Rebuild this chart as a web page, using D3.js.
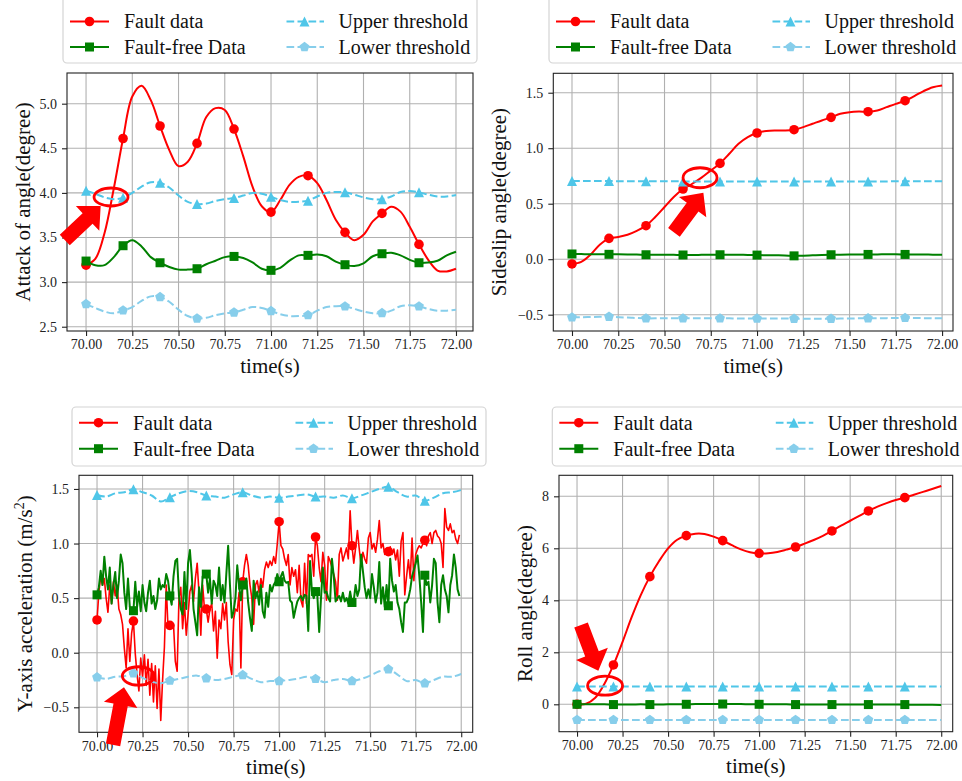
<!DOCTYPE html>
<html>
<head>
<meta charset="utf-8">
<script src="https://cdn.jsdelivr.net/npm/d3@7"></script>
<style>
  html, body { margin: 0; padding: 0; background: #fff; }
  svg { display: block; font-family: "Liberation Serif", "Times New Roman", serif; }
</style>
</head>
<body>
<svg id="fig" width="962" height="781"></svg>
<script>
// ------------------------------------------------------------------
// Data
// ------------------------------------------------------------------
const xTickValues = [70, 70.25, 70.5, 70.75, 71, 71.25, 71.5, 71.75, 72];
const seriesNames = ["Fault data", "Fault-free Data", "Upper threshold", "Lower threshold"];

// 0.05 s sample grid for the smooth attitude signals, 0.01 s grid for the accelerometer
const timeCoarse = d3.range(41).map(i => +(70 + i * 0.05).toFixed(2));
const timeFine = d3.range(200).map(i => +(70 + i * 0.01).toFixed(2));

// Angle of attack (degree)
const aoaFault = [3.19, 3.26, 3.55, 4.05, 4.61, 5.08, 5.20, 5.04, 4.75, 4.48, 4.30, 4.35, 4.555, 4.85, 4.95, 4.93, 4.716,
  4.41, 4.07, 3.85, 3.785, 3.92, 4.09, 4.18, 4.193, 4.11, 3.92, 3.70, 3.558, 3.47, 3.53, 3.68, 3.77, 3.845, 3.79, 3.62,
  3.423, 3.25, 3.13, 3.12, 3.15];
const aoaFree = [3.236, 3.19, 3.19, 3.28, 3.408, 3.47, 3.40, 3.28, 3.217, 3.17, 3.14, 3.14, 3.15, 3.20, 3.24, 3.28, 3.288,
  3.27, 3.22, 3.15, 3.132, 3.16, 3.24, 3.30, 3.30, 3.31, 3.29, 3.23, 3.195, 3.18, 3.21, 3.29, 3.318, 3.33, 3.30, 3.25,
  3.217, 3.22, 3.24, 3.30, 3.34];
const aoaUpper = [4.025, 3.99, 3.95, 3.93, 3.946, 4.00, 4.07, 4.12, 4.114, 4.06, 3.97, 3.90, 3.875, 3.88, 3.91, 3.93, 3.943,
  3.97, 4.00, 3.99, 3.957, 3.92, 3.90, 3.90, 3.913, 3.96, 4.00, 4.01, 4.006, 3.98, 3.95, 3.93, 3.93, 3.96, 4.01, 4.02,
  4.006, 3.98, 3.96, 3.96, 3.976];
const aoaLower = [2.754, 2.71, 2.67, 2.65, 2.683, 2.72, 2.79, 2.84, 2.833, 2.78, 2.69, 2.62, 2.593, 2.60, 2.63, 2.65, 2.66,
  2.69, 2.72, 2.71, 2.676, 2.64, 2.62, 2.62, 2.63, 2.68, 2.72, 2.73, 2.728, 2.70, 2.67, 2.65, 2.653, 2.68, 2.73, 2.74,
  2.728, 2.70, 2.68, 2.68, 2.69];

// Sideslip angle (degree)
const betaFault = [-0.043, -0.025, 0.04, 0.13, 0.188, 0.20, 0.22, 0.255, 0.302, 0.38, 0.47, 0.56, 0.632, 0.68, 0.735, 0.80,
  0.863, 0.95, 1.04, 1.10, 1.137, 1.155, 1.16, 1.16, 1.167, 1.19, 1.22, 1.25, 1.278, 1.31, 1.325, 1.33, 1.329, 1.34, 1.37,
  1.40, 1.428, 1.47, 1.515, 1.55, 1.566];
const betaFree = [0.047, 0.046, 0.045, 0.045, 0.044, 0.044, 0.043, 0.042, 0.040, 0.040, 0.040, 0.039, 0.038, 0.038, 0.039,
  0.040, 0.040, 0.041, 0.040, 0.038, 0.037, 0.036, 0.035, 0.034, 0.030, 0.032, 0.035, 0.038, 0.040, 0.041, 0.042, 0.043,
  0.043, 0.043, 0.044, 0.044, 0.043, 0.042, 0.042, 0.041, 0.041];
const betaUpper = [0.704, 0.705, 0.705, 0.704, 0.704, 0.703, 0.703, 0.703, 0.702, 0.702, 0.702, 0.702, 0.701, 0.701, 0.701,
  0.701, 0.701, 0.701, 0.701, 0.701, 0.700, 0.700, 0.700, 0.700, 0.700, 0.700, 0.700, 0.700, 0.701, 0.701, 0.701, 0.701,
  0.701, 0.701, 0.701, 0.702, 0.702, 0.702, 0.702, 0.702, 0.702];
const betaLower = [-0.524, -0.523, -0.521, -0.519, -0.518, -0.522, -0.526, -0.530, -0.533, -0.533, -0.532, -0.532, -0.533,
  -0.533, -0.533, -0.533, -0.533, -0.533, -0.534, -0.535, -0.535, -0.535, -0.535, -0.535, -0.536, -0.536, -0.536, -0.536,
  -0.536, -0.535, -0.534, -0.533, -0.532, -0.532, -0.531, -0.530, -0.529, -0.530, -0.531, -0.532, -0.533];

// Y-axis acceleration (m/s^2), 0.01 s samples
const accFault = [
  0.30, 0.55, 0.70, 0.62, 0.68, 0.50, 0.37, 0.62, 0.45, 0.65, 0.52, 0.62, 0.40, 0.35, 0.26, 0.04, -0.14, 0.22, -0.08, 0.18,
  0.29, -0.01, -0.20, -0.35, -0.05, -0.22, -0.02, -0.30, -0.06, -0.39, -0.10, -0.45, -0.12, -0.51, -0.15, -0.62, -0.25, 0.05, 0.62, 0.22,
  0.25, 0.24, 0.26, -0.08, -0.17, 0.50, 0.60, 0.22, 0.46, 0.16, 0.35, 0.56, 0.62, 0.47, 0.68, 0.82, 0.55, 0.16, 0.62, 0.40,
  0.40, 0.28, 0.40, 0.45, 0.20, 0.38, -0.05, 0.30, 0.22, 0.45, 0.30, 0.46, 0.10, -0.11, -0.20, 0.30, 0.40, 0.38, 0.55, -0.14,
  0.65, 0.80, 0.90, 0.80, 0.62, 0.50, 0.26, 0.62, 0.66, 0.55, 0.68, 0.60, 0.76, 0.83, 0.78, 0.84, 0.80, 0.88, 0.82, 1.00,
  1.20, 0.98, 0.95, 0.86, 0.80, 0.90, 0.62, 0.78, 0.70, 0.76, 0.55, 0.80, 0.48, 0.42, 0.82, 0.45, 0.90, 0.88, 0.90, 0.70,
  1.06, 0.98, 0.78, 0.65, 0.92, 0.80, 0.48, 0.88, 0.84, 0.78, 0.72, 0.65, 0.48, 0.90, 0.96, 0.84, 0.90, 0.96, 0.86, 1.30,
  0.98, 0.82, 0.96, 1.12, 0.95, 0.80, 0.92, 0.86, 0.82, 1.05, 1.10, 0.95, 1.00, 0.92, 1.04, 1.21, 0.96, 1.00, 0.90, 0.95,
  0.926, 0.97, 0.90, 0.95, 0.85, 0.94, 0.70, 1.02, 1.10, 0.53, 0.70, 0.85, 0.68, 1.05, 0.66, 0.90, 0.95, 0.98, 0.96, 1.00,
  1.03, 0.98, 1.07, 1.10, 1.00, 1.10, 1.12, 1.07, 1.05, 1.00, 0.78, 1.32, 1.15, 1.12, 1.18, 1.10, 1.12, 1.04, 1.00, 1.08];
const accFree = [
  0.53, 0.60, 0.75, 0.62, 0.88, 0.70, 0.58, 0.78, 0.45, 0.62, 0.74, 0.50, 0.66, 0.90, 0.82, 0.55, 0.40, 0.68, 0.42, 0.40,
  0.385, 0.65, 0.42, 0.56, 0.38, 0.62, 0.46, 0.38, 0.55, 0.66, 0.45, 0.52, 0.40, 0.48, 0.68, 0.58, 0.62, 0.60, 0.72, 0.66,
  0.52, 0.44, 0.70, 0.84, 0.86, 0.52, 0.40, 0.35, 0.74, 0.40, 0.82, 0.94, 0.72, 0.40, 0.28, 0.16, 0.60, 0.42, 0.70, 0.72,
  0.72, 0.55, 0.68, 0.45, 0.66, 0.62, 0.52, 0.78, 0.48, 0.62, 0.46, 0.72, 0.98, 0.62, 0.32, 0.38, 0.50, 0.80, 0.62, 0.48,
  0.62, 0.60, 0.68, 0.46, 0.32, 0.20, 0.66, 0.50, 0.56, 0.44, 0.62, 0.38, 0.32, 0.55, 0.42, 0.62, 0.56, 0.62, 0.65, 0.72,
  0.65, 0.70, 0.74, 0.66, 0.64, 0.65, 0.48, 0.46, 0.32, 0.40, 0.47, 0.50, 0.52, 0.48, 0.53, 0.52, 0.20, 0.84, 0.56, 0.50,
  0.56, 0.52, 0.19, 0.50, 0.78, 0.55, 0.56, 0.50, 0.47, 0.86, 0.70, 0.47, 0.50, 0.52, 0.47, 0.55, 0.47, 0.50, 0.45, 0.56,
  0.46, 0.48, 0.62, 0.52, 0.58, 0.90, 0.75, 0.60, 0.50, 0.58, 0.50, 0.72, 0.60, 0.46, 0.55, 0.83, 0.45, 0.60, 0.42, 0.62,
  0.43, 0.86, 0.66, 0.56, 0.62, 0.46, 0.40, 0.28, 0.19, 0.46, 0.46, 0.50, 0.58, 0.70, 0.76, 0.82, 0.89, 0.70, 0.46, 0.19,
  0.71, 0.62, 0.65, 0.46, 0.62, 0.86, 0.82, 0.46, 0.28, 0.62, 0.71, 0.58, 0.52, 0.37, 0.62, 0.71, 0.90, 0.78, 0.58, 0.52];
const accUpper = [1.445, 1.43, 1.46, 1.47, 1.497, 1.47, 1.44, 1.385, 1.424, 1.46, 1.48, 1.47, 1.439, 1.43, 1.42, 1.45, 1.47,
  1.44, 1.42, 1.43, 1.42, 1.43, 1.44, 1.45, 1.43, 1.43, 1.42, 1.44, 1.415, 1.44, 1.47, 1.50, 1.52, 1.47, 1.43, 1.44,
  1.393, 1.42, 1.46, 1.47, 1.49];
const accLower = [-0.225, -0.24, -0.22, -0.215, -0.188, -0.23, -0.265, -0.28, -0.256, -0.24, -0.22, -0.21, -0.234, -0.25,
  -0.24, -0.22, -0.204, -0.24, -0.27, -0.26, -0.259, -0.25, -0.24, -0.22, -0.24, -0.27, -0.25, -0.24, -0.259, -0.24, -0.21,
  -0.17, -0.152, -0.20, -0.26, -0.25, -0.28, -0.25, -0.22, -0.22, -0.195];

// Roll angle (degree)
const rollFault = [0.00, 0.02, 0.25, 0.78, 1.513, 2.40, 3.35, 4.20, 4.91, 5.50, 6.00, 6.33, 6.487, 6.56, 6.55, 6.45, 6.295,
  6.12, 5.96, 5.85, 5.808, 5.81, 5.86, 5.95, 6.05, 6.18, 6.32, 6.48, 6.667, 6.87, 7.06, 7.25, 7.436, 7.60, 7.74, 7.86,
  7.949, 8.06, 8.17, 8.28, 8.397];
const rollFree = [0.00, 0.00, 0.00, 0.00, -0.01, -0.01, -0.01, 0.00, -0.01, -0.01, 0.00, 0.00, 0.00, 0.01, 0.01, 0.01, 0.01,
  0.01, 0.01, 0.00, 0.00, 0.00, 0.00, 0.00, -0.01, -0.01, -0.01, -0.01, -0.01, -0.01, -0.01, -0.01, -0.01, -0.01, -0.01,
  -0.01, -0.01, -0.02, -0.02, -0.02, -0.03];
const rollUpper = [0.68, 0.68, 0.68, 0.68, 0.68, 0.68, 0.68, 0.68, 0.68, 0.68, 0.68, 0.68, 0.68, 0.68, 0.68, 0.68, 0.68,
  0.68, 0.68, 0.68, 0.68, 0.68, 0.68, 0.68, 0.68, 0.68, 0.68, 0.68, 0.68, 0.68, 0.68, 0.68, 0.68, 0.68, 0.68, 0.68, 0.68,
  0.68, 0.68, 0.68, 0.68];
const rollLower = [-0.60, -0.60, -0.60, -0.60, -0.60, -0.60, -0.60, -0.60, -0.60, -0.60, -0.60, -0.60, -0.60, -0.60, -0.60,
  -0.60, -0.60, -0.60, -0.60, -0.60, -0.60, -0.60, -0.60, -0.60, -0.60, -0.60, -0.60, -0.60, -0.60, -0.60, -0.60, -0.60,
  -0.60, -0.60, -0.60, -0.60, -0.60, -0.60, -0.60, -0.60, -0.60];

// ------------------------------------------------------------------
// Styles and layout
// ------------------------------------------------------------------
const COLORS = { fault: "#ff0000", free: "#008000", upper: "#4fc6e8", lower: "#87ceeb" };
const DASH = "7.7,3.3";

const panels = [
  {
    key: "aoa", box: { left: 67, right: 473, top: 73, bottom: 331 },
    xDomain: [69.897, 72.092], yDomain: [2.452, 5.344], yTicks: [2.5, 3, 3.5, 4, 4.5, 5], yFormat: ".1f",
    yLabel: ["Attack of angle(degree)"], yLabelGap: 37, smooth: true,
    series: { time: timeCoarse, fault: aoaFault, free: aoaFree, upper: aoaUpper, lower: aoaLower }, markEvery: 4,
    legend: { x: 63, top: -4, bottom: 63, rows: [21.5, 47], width: 414 },
    note: { ellipse: [70.135, 3.954], rx: 17, ry: 9, tail: [69.885, 3.472], tip: [70.079, 3.853] }
  },
  {
    key: "beta", box: { left: 553.3, right: 953, top: 73.3, bottom: 331 },
    xDomain: [69.899, 72.059], yDomain: [-0.647, 1.675], yTicks: [-0.5, 0, 0.5, 1, 1.5], yFormat: ".1f",
    yLabel: ["Sideslip angle(degree)"], yLabelGap: 47, smooth: true,
    series: { time: timeCoarse, fault: betaFault, free: betaFree, upper: betaUpper, lower: betaLower }, markEvery: 4,
    legend: { x: 549, top: -4, bottom: 63, rows: [21.5, 47], width: 420 },
    note: { ellipse: [70.692, 0.734], rx: 17, ry: 10, tail: [70.551, 0.242], tip: [70.71, 0.599] }
  },
  {
    key: "acc", box: { left: 79, right: 472.7, top: 475.3, bottom: 732.3 },
    xDomain: [69.901, 72.063], yDomain: [-0.729, 1.625], yTicks: [-0.5, 0, 0.5, 1, 1.5], yFormat: ".1f",
    yLabel: ["Y-axis acceleration (m/s", "2", ")"], yLabelGap: 47, smooth: false,
    series: { time: timeFine, fault: accFault, free: accFree, upper: accUpper, lower: accLower, thresholdTime: timeCoarse },
    markEvery: 20, thresholdMarkEvery: 4,
    legend: { x: 72, top: 407, bottom: 466, rows: [422.7, 448.7], width: 414 },
    note: { ellipse: [70.227, -0.213], rx: 16, ry: 9.2, tail: [70.088, -0.845], tip: [70.148, -0.316] }
  },
  {
    key: "roll", box: { left: 559, right: 952.7, top: 475.3, bottom: 731.7 },
    xDomain: [69.901, 72.063], yDomain: [-1.054, 8.808], yTicks: [0, 2, 4, 6, 8], yFormat: "d",
    yLabel: ["Roll angle(degree)"], yLabelGap: 27, smooth: true,
    series: { time: timeCoarse, fault: rollFault, free: rollFree, upper: rollUpper, lower: rollLower }, markEvery: 4,
    legend: { x: 552.3, top: 407, bottom: 466, rows: [422.7, 448.7], width: 420 },
    note: { ellipse: [70.154, 0.715], rx: 17.5, ry: 9.5, tail: [70.022, 3.05], tip: [70.117, 1.292] }
  }
];

// ------------------------------------------------------------------
// Marker shapes
// ------------------------------------------------------------------
function drawMarker(g, kind, cx, cy, color) {
  if (kind === "circle") {
    g.append("circle").attr("cx", cx).attr("cy", cy).attr("r", 4.8).attr("fill", color);
  } else if (kind === "square") {
    g.append("rect").attr("x", cx - 4.5).attr("y", cy - 4.5).attr("width", 9).attr("height", 9).attr("fill", color);
  } else if (kind === "triangle") {
    const r = 5;
    g.append("path").attr("d", `M${cx},${cy - r}L${cx + r},${cy + r}L${cx - r},${cy + r}Z`).attr("fill", color);
  } else if (kind === "pentagon") {
    const r = 5.2;
    const pts = d3.range(5).map(k => {
      const a = -Math.PI / 2 + k * 2 * Math.PI / 5;
      return [cx + r * Math.cos(a), cy + r * Math.sin(a)];
    });
    g.append("path").attr("d", "M" + pts.map(p => p.join(",")).join("L") + "Z").attr("fill", color);
  }
}

const svg = d3.select("#fig");

// ------------------------------------------------------------------
// Panels
// ------------------------------------------------------------------
panels.forEach((p, pi) => {
  const b = p.box;
  const x = d3.scaleLinear().domain(p.xDomain).range([b.left, b.right]);
  const y = d3.scaleLinear().domain(p.yDomain).range([b.bottom, b.top]);
  const g = svg.append("g").attr("class", "panel-" + p.key);

  const clipId = "clip-" + p.key;
  svg.append("defs").append("clipPath").attr("id", clipId)
    .append("rect").attr("x", b.left).attr("y", b.top).attr("width", b.right - b.left).attr("height", b.bottom - b.top);

  // grid
  const grid = g.append("g").attr("stroke", "#b0b0b0").attr("stroke-width", 1.1);
  xTickValues.forEach(t => grid.append("line").attr("x1", x(t)).attr("x2", x(t)).attr("y1", b.top).attr("y2", b.bottom));
  p.yTicks.forEach(v => grid.append("line").attr("x1", b.left).attr("x2", b.right).attr("y1", y(v)).attr("y2", y(v)));

  // series
  const plot = g.append("g").attr("clip-path", `url(#${clipId})`);
  const s = p.series;
  const thrTime = s.thresholdTime || s.time;
  const thrEvery = p.thresholdMarkEvery || p.markEvery;
  const defs = [
    { name: "fault", time: s.time, values: s.fault, color: COLORS.fault, marker: "circle", dash: null, smooth: p.smooth, every: p.markEvery, width: p.smooth ? 2 : 1.6 },
    { name: "free", time: s.time, values: s.free, color: COLORS.free, marker: "square", dash: null, smooth: p.smooth, every: p.markEvery, width: 2 },
    { name: "upper", time: thrTime, values: s.upper, color: COLORS.upper, marker: "triangle", dash: DASH, smooth: true, every: thrEvery, width: 2 },
    { name: "lower", time: thrTime, values: s.lower, color: COLORS.lower, marker: "pentagon", dash: DASH, smooth: true, every: thrEvery, width: 2 }
  ];
  defs.forEach(d => {
    const pts = d.values.map((v, i) => ({ t: d.time[i], v }));
    const line = d3.line().x(q => x(q.t)).y(q => y(q.v))
      .curve(d.smooth ? d3.curveCatmullRom.alpha(0.5) : d3.curveLinear);
    plot.append("path").datum(pts).attr("d", line)
      .attr("fill", "none").attr("stroke", d.color).attr("stroke-width", d.width)
      .attr("stroke-linejoin", "round")
      .attr("stroke-dasharray", d.dash);
    const mg = plot.append("g");
    pts.forEach((q, i) => {
      if (i % d.every === 0 && q.t < 71.9) drawMarker(mg, d.marker, x(q.t), y(q.v), d.color);
    });
  });

  // frame
  g.append("rect").attr("x", b.left).attr("y", b.top).attr("width", b.right - b.left).attr("height", b.bottom - b.top)
    .attr("fill", "none").attr("stroke", "#222").attr("stroke-width", 1.1);

  // axes
  const xAxis = d3.axisBottom(x).tickValues(xTickValues).tickFormat(d3.format(".2f")).tickSize(5).tickPadding(3.5);
  const gx = g.append("g").attr("transform", `translate(0,${b.bottom})`).call(xAxis);
  const yAxis = d3.axisLeft(y).tickValues(p.yTicks).tickFormat(d3.format(p.yFormat)).tickSize(5).tickPadding(5);
  const gy = g.append("g").attr("transform", `translate(${b.left},0)`).call(yAxis);
  [gx, gy].forEach(a => {
    a.select(".domain").remove();
    a.selectAll(".tick line").attr("stroke", "#222").attr("stroke-width", 1.1);
    a.selectAll(".tick text").attr("fill", "#222").style("font-size", "14px")
      .style("font-family", "'Liberation Serif', serif");
  });

  // axis titles
  g.append("text").attr("x", (b.left + b.right) / 2).attr("y", b.bottom + 41.5)
    .attr("text-anchor", "middle").style("font-size", "21px").attr("fill", "#111").text("time(s)");
  const yl = g.append("text")
    .attr("transform", `translate(${b.left - p.yLabelGap},${(b.top + b.bottom) / 2}) rotate(-90)`)
    .attr("text-anchor", "middle").style("font-size", "21px").attr("fill", "#111");
  yl.append("tspan").text(p.yLabel[0]);
  if (p.yLabel.length > 1) {
    yl.append("tspan").attr("dy", -8).style("font-size", "14px").text(p.yLabel[1]);
    yl.append("tspan").attr("dy", 8).text(p.yLabel[2]);
  }

  // legend
  const L = p.legend;
  const lg = svg.append("g").attr("class", "legend-" + p.key);
  lg.append("rect").attr("x", L.x).attr("y", L.top).attr("width", L.width).attr("height", L.bottom - L.top)
    .attr("rx", 4).attr("fill", "#fff").attr("stroke", "#d4d4d4").attr("stroke-width", 1.2);
  defs.forEach((d, k) => {
    const col = Math.floor(k / 2), row = k % 2;
    const hx = L.x + (col === 0 ? 7 : 222);
    const hy = L.rows[row];
    lg.append("line").attr("x1", hx).attr("x2", hx + 39).attr("y1", hy).attr("y2", hy)
      .attr("stroke", d.color).attr("stroke-width", 2).attr("stroke-dasharray", d.dash ? "7.7,3.3" : null)
      .attr("stroke-dashoffset", d.dash ? -1.5 : null);
    drawMarker(lg, d.marker, hx + 19.5, hy, d.color);
    lg.append("text").attr("x", hx + (col === 0 ? 54 : 53.5)).attr("y", hy + 6.8)
      .style("font-size", "20px").attr("fill", "#111").text(seriesNames[k]);
  });

  // highlighted threshold crossing
  const n = p.note;
  const ag = svg.append("g").attr("class", "note-" + p.key);
  ag.append("ellipse").attr("cx", x(n.ellipse[0])).attr("cy", y(n.ellipse[1])).attr("rx", n.rx).attr("ry", n.ry)
    .attr("fill", "none").attr("stroke", COLORS.fault).attr("stroke-width", 2.8);
  const T = [x(n.tail[0]), y(n.tail[1])], P = [x(n.tip[0]), y(n.tip[1])];
  const len = Math.hypot(P[0] - T[0], P[1] - T[1]);
  const u = [(P[0] - T[0]) / len, (P[1] - T[1]) / len], nv = [-u[1], u[0]];
  const hl = 18, ws = 14.5, wh = 34;
  const B = [P[0] - u[0] * hl, P[1] - u[1] * hl];
  const off = (pt, w) => [pt[0] + nv[0] * w, pt[1] + nv[1] * w];
  const poly = [off(T, ws / 2), off(B, ws / 2), off(B, wh / 2), P, off(B, -wh / 2), off(B, -ws / 2), off(T, -ws / 2)];
  ag.append("path").attr("d", "M" + poly.map(q => q.join(",")).join("L") + "Z").attr("fill", COLORS.fault);
});
</script>
</body>
</html>
